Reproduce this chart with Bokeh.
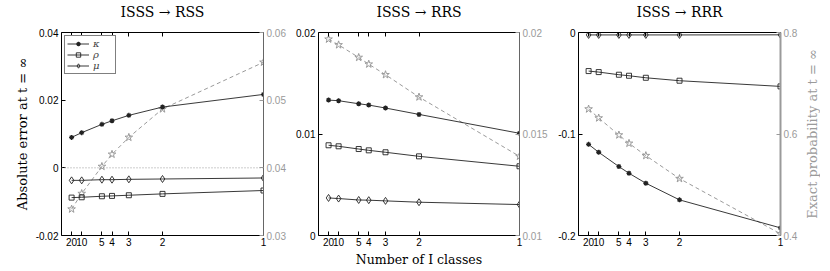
import math
from bokeh.plotting import figure
from bokeh.layouts import row
from bokeh.models import (Range1d, LinearAxis, FixedTicker, CustomJSTickFormatter, Span)
from bokeh.embed import file_html
from bokeh.resources import INLINE

# ---------------- data ----------------
n_classes = [20, 10, 5, 4, 3, 2, 1]

titles = ["ISSS \u2192 RSS", "ISSS \u2192 RRS", "ISSS \u2192 RRR"]

rss_kappa = [0.0090, 0.0104, 0.01285, 0.0139, 0.01551, 0.01797, 0.0217]
rss_rho = [-0.0088, -0.0087, -0.0084, -0.0083, -0.0081, -0.0077, -0.0067]
rss_mu = [-0.0037, -0.0037, -0.0035, -0.0035, -0.0034, -0.0033, -0.0030]
rss_exact = [0.0339, 0.0362, 0.0402, 0.0420, 0.0445, 0.0487, 0.0556]

rrs_kappa = [0.01334, 0.01328, 0.01298, 0.01285, 0.01256, 0.01193, 0.01007]
rrs_rho = [0.00889, 0.00879, 0.00852, 0.00839, 0.0082, 0.0078, 0.00682]
rrs_mu = [0.0037, 0.00364, 0.0035, 0.00348, 0.00341, 0.00328, 0.00305]
rrs_exact = [0.01967, 0.01939, 0.01877, 0.01844, 0.01792, 0.01682, 0.0139]

rrr_kappa = [-0.1102, -0.118, -0.1321, -0.1387, -0.1485, -0.1649, -0.1925]
rrr_rho = [-0.038, -0.039, -0.0416, -0.0426, -0.0446, -0.0475, -0.0531]
rrr_mu = [-0.0024, -0.0024, -0.0024, -0.0024, -0.0024, -0.0024, -0.0023]
rrr_exact = [0.6492, 0.6315, 0.598, 0.5816, 0.5574, 0.5121, 0.4033]

left_ranges = [(-0.02, 0.04), (0.0, 0.02), (-0.2, 0.0)]
right_ranges = [(0.03, 0.06), (0.01, 0.02), (0.4, 0.8)]
left_ticks = [[-0.02, 0.0, 0.02, 0.04], [0.0, 0.01, 0.02], [-0.2, -0.1, 0.0]]
right_ticks = [[0.03, 0.04, 0.05, 0.06], [0.01, 0.015, 0.02], [0.4, 0.6, 0.8]]

series = [
    (rss_kappa, rss_rho, rss_mu, rss_exact),
    (rrs_kappa, rrs_rho, rrs_mu, rrs_exact),
    (rrr_kappa, rrr_rho, rrr_mu, rrr_exact),
]

x_vals = [1.0 / n for n in n_classes]

# ---------------- style ----------------
SERIF = "DejaVu Serif"
SANS = "Liberation Sans"
DARK = "#222222"
GRAY = "#9a9a9a"

borders = [  # left, right
    (61, 26),
    (29, 27),
    (28, 21),
]
frame_widths = [202, 201, 202]
FRAME_H = 203
TOP, BOTTOM = 32, 34

xfmt = "return Math.round(1/tick).toString();"
yfmt = "return tick == 0 ? '0' : String(Number(tick.toPrecision(6)));"


def style_axis(ax, color="black", labels=True, label_color="black"):
    ax.axis_line_color = color
    ax.major_tick_line_color = color
    ax.major_tick_in = 4
    ax.major_tick_out = 0
    ax.minor_tick_line_color = None
    ax.major_label_text_font = SANS
    ax.major_label_text_font_size = "10px"
    ax.major_label_text_color = label_color
    ax.major_label_standoff = 3
    if not labels:
        ax.major_label_text_font_size = "0px"
        ax.major_label_text_color = None
        ax.major_label_standoff = 0


def label_font(ax, size="13px", color="black"):
    ax.axis_label_text_font = SERIF
    ax.axis_label_text_font_size = size
    ax.axis_label_text_font_style = "normal"
    ax.axis_label_text_color = color


figs = []
for i in range(3):
    bl, br = borders[i]
    p = figure(frame_width=frame_widths[i], frame_height=FRAME_H,
               x_range=Range1d(0, 1), y_range=Range1d(*left_ranges[i]),
               output_backend="svg", toolbar_location=None,
               x_axis_location=None, y_axis_location=None,
               min_border_left=bl, min_border_right=br,
               min_border_top=TOP, min_border_bottom=BOTTOM)
    p.outline_line_color = None
    p.xgrid.visible = False
    p.ygrid.visible = False
    p.background_fill_color = "white"
    p.border_fill_color = "white"

    p.extra_y_ranges = {"r": Range1d(*right_ranges[i])}

    xt = FixedTicker(ticks=x_vals)
    bottom = LinearAxis(ticker=xt, formatter=CustomJSTickFormatter(code=xfmt))
    style_axis(bottom)
    bottom.major_label_standoff = 2
    if i == 1:
        bottom.axis_label = "Number of I classes"
        label_font(bottom, "12.5px")
        bottom.axis_label_standoff = 3
    p.add_layout(bottom, "below")

    # top edge ticks; panel title carried as this axis' label
    top = LinearAxis(ticker=FixedTicker(ticks=x_vals))
    style_axis(top, labels=False)
    top.axis_label = titles[i]
    label_font(top, "14px")
    top.axis_label_standoff = 13
    p.add_layout(top, "above")

    left = LinearAxis(ticker=FixedTicker(ticks=left_ticks[i]),
                      formatter=CustomJSTickFormatter(code=yfmt))
    style_axis(left)
    if i == 0:
        left.axis_label = "Absolute error at t = \u221e"
        label_font(left, "13px")
        left.axis_label_standoff = 3
    p.add_layout(left, "left")

    right = LinearAxis(y_range_name="r", ticker=FixedTicker(ticks=right_ticks[i]),
                       formatter=CustomJSTickFormatter(code=yfmt))
    style_axis(right, color=GRAY, label_color=GRAY)
    if i == 2:
        right.axis_line_width = 2
    else:
        right.axis_line_color = "#666666"
    p.add_layout(right, "right")

    if i == 0:
        p.add_layout(Span(location=0, dimension="width", line_color="#999999",
                          line_dash="1 2", line_width=1))

    kappa, rho, mu, exact = series[i]

    # exact probability (right axis)
    p.line(x_vals, exact, y_range_name="r", line_color=GRAY, line_dash="4 3", line_width=1)
    p.scatter(x_vals, exact, y_range_name="r", marker="star", size=8,
              line_color=GRAY, fill_color=None, line_width=1)

    lk = "\u03ba" if i == 0 else None
    lr = "\u03c1" if i == 0 else None
    lm = "\u03bc" if i == 0 else None

    for vals, marker, size, lab in [(kappa, "asterisk", 5, lk), (rho, "square", 5, lr),
                                    (mu, "diamond", 7, lm)]:
        lw = 1.3 if marker == "asterisk" else 0.9
        if lab is not None:
            p.line(x_vals, vals, line_color=DARK, line_width=0.9, legend_label=lab)
            p.scatter(x_vals, vals, marker=marker, size=size, line_color=DARK,
                      fill_color=None, line_width=lw, legend_label=lab)
        else:
            p.line(x_vals, vals, line_color=DARK, line_width=0.9)
            p.scatter(x_vals, vals, marker=marker, size=size, line_color=DARK,
                      fill_color=None, line_width=lw)

    if i == 0:
        lg = p.legend[0]
        lg.location = "top_left"
        lg.margin = 3
        lg.padding = 2
        lg.spacing = 0
        lg.label_text_font = SERIF
        lg.label_text_font_style = "italic"
        lg.label_text_font_size = "10px"
        lg.label_height = 10
        lg.glyph_height = 11
        lg.glyph_width = 22
        lg.label_standoff = 4
        lg.border_line_color = "black"
        lg.border_line_width = 1
        lg.background_fill_alpha = 1

    figs.append(p)

# thin figure carrying the right-hand axis title (reads bottom-to-top)
q = figure(frame_width=1, frame_height=FRAME_H, x_range=Range1d(0, 1),
           y_range=Range1d(*right_ranges[2]), output_backend="svg",
           toolbar_location=None, x_axis_location=None, y_axis_location=None,
           min_border_left=7, min_border_right=0,
           min_border_top=TOP, min_border_bottom=BOTTOM)
q.outline_line_color = None
q.xgrid.visible = False
q.ygrid.visible = False
q.border_fill_color = "white"
qa = LinearAxis(ticker=FixedTicker(ticks=[]))
qa.axis_line_color = None
qa.major_tick_line_color = None
qa.minor_tick_line_color = None
qa.major_tick_in = 0
qa.major_tick_out = 0
qa.major_label_text_font_size = "0px"
qa.major_label_standoff = 0
qa.axis_label = "Exact probability at t = \u221e"
label_font(qa, "13px", GRAY)
qa.axis_label_standoff = 0
q.add_layout(qa, "left")
q.line(x=[], y=[])
figs.append(q)

layout = row(*figs)
open("out.html", "w").write(file_html(layout, INLINE))
